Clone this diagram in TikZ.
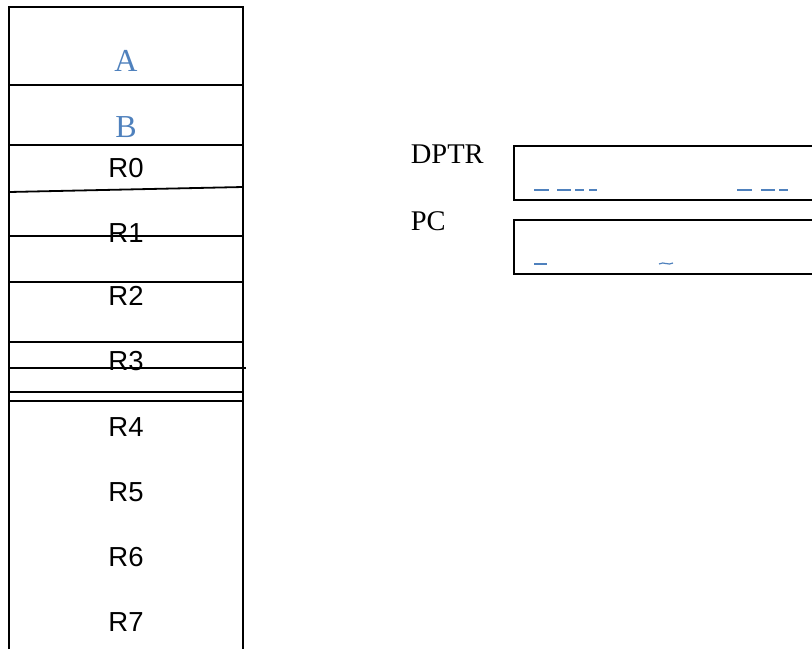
\documentclass[tikz,border=0pt]{standalone}
\usepackage{fontspec}
\setmainfont{Liberation Serif}
\setsansfont{Liberation Sans}
\usetikzlibrary{positioning, calc}

\definecolor{regblue}{RGB}{79,129,189}

\begin{document}
\begin{tikzpicture}[x=1pt, y=-1pt, line width=1.8pt]

\useasboundingbox (0, 0) rectangle (812, 649);

\pgfmathsetmacro{\xl}{9}
\pgfmathsetmacro{\xr}{243}
\pgfmathsetmacro{\xm}{126}

% register bank outline (runs off the bottom)
\coordinate (TL) at (\xl, 7);
\coordinate (TR) at (\xr, 7);
\coordinate (BL) at (\xl, 649);
\coordinate (BR) at (\xr, 649);
\draw (BL) -- (TL) -- (TR) -- (BR);

% row separators
\draw (\xl, 85)  -- (\xr, 85);
\draw (\xl, 145) -- (\xr, 145);
\draw (\xl, 192) -- (\xr, 187);
\draw (\xl, 236) -- (\xr, 236);
\draw (\xl, 282) -- (\xr, 282);
\draw (\xl, 342) -- (\xr, 342);
\draw (\xl, 368) -- (\xr+3, 368);
\draw (\xl, 392) -- (\xr, 392);
\draw (\xl, 401) -- (\xr, 401);

% accumulator and B
\node[anchor=base, text=regblue, font=\fontsize{32}{34}\selectfont] (A) at (\xm, 71)  {A};
\node[anchor=base, text=regblue, font=\fontsize{32}{34}\selectfont] (B) at (\xm, 137) {B};

% R0 .. R7
\node[anchor=base, font=\sffamily\fontsize{27.5}{30}\selectfont] (R0) at (\xm, 177) {R0};
\node[anchor=base, font=\sffamily\fontsize{27.5}{30}\selectfont] (R1) at (\xm, 242) {R1};
\node[anchor=base, font=\sffamily\fontsize{27.5}{30}\selectfont] (R2) at (\xm, 305) {R2};
\node[anchor=base, font=\sffamily\fontsize{27.5}{30}\selectfont] (R3) at (\xm, 370) {R3};
\node[anchor=base, font=\sffamily\fontsize{27.5}{30}\selectfont] (R4) at (\xm, 436) {R4};
\node[anchor=base, font=\sffamily\fontsize{27.5}{30}\selectfont] (R5) at (\xm, 501) {R5};
\node[anchor=base, font=\sffamily\fontsize{27.5}{30}\selectfont] (R6) at (\xm, 566) {R6};
\node[anchor=base, font=\sffamily\fontsize{27.5}{30}\selectfont] (R7) at (\xm, 631) {R7};

% DPTR and PC, open to the right
\node[anchor=base west, inner sep=0pt, font=\fontsize{28.5}{30}\selectfont] (dptr) at (410, 163) {DPTR};
\node[anchor=base west, inner sep=0pt, font=\fontsize{28.5}{30}\selectfont] (pc)   at (410, 230) {PC};

\draw (812, 146) -- (514, 146) -- (514, 200) -- (812, 200);
\draw (812, 220) -- (514, 220) -- (514, 274) -- (812, 274);

% clipped halves inside the boxes
\draw[regblue, line width=1.2pt] (534, 190) -- (549, 190);
\draw[regblue, line width=1.2pt] (557, 190) -- (571, 190);
\draw[regblue, line width=1.2pt] (575, 190) -- (584, 190);
\draw[regblue, line width=1.2pt] (589, 190) -- (597, 190);
\draw[regblue, line width=1.2pt] (737, 190) -- (752, 190);
\draw[regblue, line width=1.2pt] (761, 190) -- (775, 190);
\draw[regblue, line width=1.2pt] (779, 190) -- (788, 190);
\draw[regblue, line width=1.2pt] (534, 264) -- (547, 264);
\draw[regblue, line width=1.2pt] (659, 264) .. controls (664, 261) and (668, 266) .. (673, 263);

\end{tikzpicture}
\end{document}
